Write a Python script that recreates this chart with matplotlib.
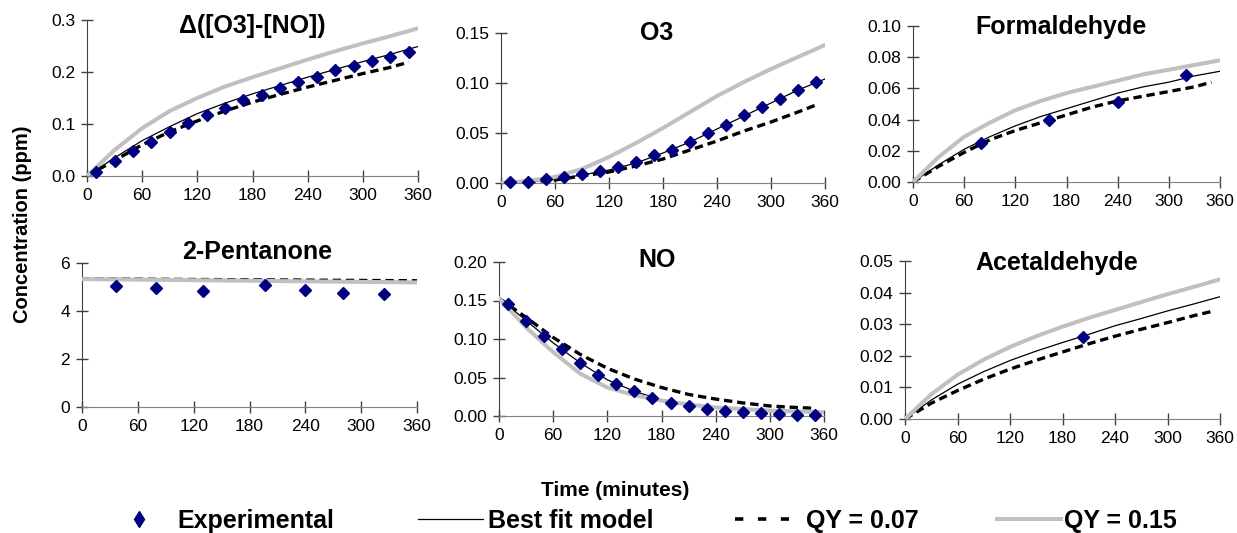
import matplotlib
matplotlib.use("Agg")
import matplotlib.pyplot as plt
from matplotlib.lines import Line2D

plt.rcParams['font.family'] = ['Liberation Sans', 'DejaVu Sans']
plt.rcParams['lines.scale_dashes'] = False

# sample times (minutes)
t_exp = list(range(10, 351, 20))
t_model = list(range(0, 361, 30))
t_qy07 = list(range(0, 331, 30)) + [350]

# d([O3]-[NO])
dO3NO_exp = [0.007, 0.028, 0.048, 0.066, 0.084, 0.101, 0.117, 0.131, 0.146,
             0.156, 0.169, 0.181, 0.191, 0.203, 0.212, 0.222, 0.229, 0.238]
dO3NO_best = [0, 0.035, 0.068, 0.095, 0.120, 0.140, 0.158, 0.174, 0.190, 0.205, 0.220, 0.234, 0.249]
dO3NO_qy07 = [0, 0.030, 0.060, 0.085, 0.106, 0.125, 0.142, 0.157, 0.171, 0.184, 0.197, 0.209, 0.219]
dO3NO_qy15 = [0, 0.050, 0.092, 0.125, 0.150, 0.172, 0.190, 0.207, 0.224, 0.240, 0.255, 0.269, 0.284]

# O3
o3_exp = [0.001, 0.001, 0.004, 0.006, 0.009, 0.012, 0.016, 0.021, 0.028,
          0.033, 0.041, 0.050, 0.058, 0.068, 0.076, 0.084, 0.093, 0.101]
o3_best = [0, 0.001, 0.004, 0.008, 0.013, 0.020, 0.030, 0.041, 0.054, 0.067, 0.080, 0.093, 0.104]
o3_qy07 = [0, 0.001, 0.003, 0.007, 0.011, 0.017, 0.024, 0.033, 0.042, 0.052, 0.061, 0.071, 0.078]
o3_qy15 = [0, 0.002, 0.006, 0.014, 0.026, 0.040, 0.055, 0.071, 0.087, 0.101, 0.114, 0.126, 0.138]

# Formaldehyde
t_hcho = [80, 160, 240, 320]
hcho_exp = [0.025, 0.040, 0.051, 0.0686]
hcho_best = [0, 0.011, 0.021, 0.029, 0.036, 0.042, 0.047, 0.052, 0.057, 0.061, 0.064, 0.068, 0.071]
hcho_qy07 = [0, 0.010, 0.019, 0.027, 0.033, 0.038, 0.043, 0.048, 0.052, 0.055, 0.058, 0.061, 0.064]
hcho_qy15 = [0, 0.016, 0.029, 0.038, 0.046, 0.052, 0.057, 0.061, 0.065, 0.069, 0.072, 0.075, 0.078]

# 2-Pentanone
t_pent = [37, 80, 130, 197, 240, 280, 324]
pent_exp = [5.05, 4.95, 4.84, 5.09, 4.88, 4.77, 4.71]
t_pent_model = [0, 180, 360]
pent_best = [5.33, 5.28, 5.22]
pent_qy07 = [5.34, 5.30, 5.26]
pent_qy15 = [5.33, 5.26, 5.19]

# NO
no_exp = [0.146, 0.124, 0.104, 0.087, 0.069, 0.053, 0.041, 0.032, 0.023,
          0.017, 0.013, 0.009, 0.007, 0.005, 0.004, 0.002, 0.0013, 0.001]
no_best = [0.153, 0.124, 0.095, 0.069, 0.047, 0.032, 0.021, 0.015, 0.011, 0.008, 0.006, 0.005, 0.004]
no_qy07 = [0.153, 0.128, 0.102, 0.080, 0.062, 0.048, 0.037, 0.028, 0.022, 0.017, 0.013, 0.011, 0.010]
no_qy15 = [0.153, 0.115, 0.083, 0.055, 0.037, 0.027, 0.020, 0.015, 0.011, 0.009, 0.007, 0.006, 0.005]

# Acetaldehyde
t_acet = [203]
acet_exp = [0.026]
acet_best = [0, 0.0060, 0.0110, 0.0150, 0.0185, 0.0215, 0.0242, 0.0268, 0.0295, 0.0318, 0.0342, 0.0364, 0.0387]
acet_qy07 = [0, 0.0050, 0.0090, 0.0126, 0.0158, 0.0186, 0.0212, 0.0238, 0.0262, 0.0284, 0.0305, 0.0327, 0.0340]
acet_qy15 = [0, 0.0078, 0.0140, 0.0188, 0.0228, 0.0262, 0.0292, 0.0320, 0.0345, 0.0370, 0.0395, 0.0418, 0.0442]

NAVY = '#000080'
GRAY = '#c0c0c0'
W, H = 1237, 533

fig = plt.figure(figsize=(W / 100, H / 100), dpi=100)


def add_panel(x0, x1, ytop, ybot):
    return fig.add_axes([x0 / W, 1 - ybot / H, (x1 - x0) / W, (ybot - ytop) / H])


def draw(ax, title, title_xy, te, ye, tb, yb, t7, y7, t15, y15, ymax, ystep, fmt):
    ax.plot(t7, y7, color='black', lw=2.4, dashes=(6, 3.5), zorder=2, solid_capstyle='butt')
    ax.plot(tb, yb, color='black', lw=0.9, zorder=2.5)
    ax.plot(t15, y15, color=GRAY, lw=2.9, zorder=3)
    ax.plot(te, ye, ls='none', marker='D', ms=6.2, color=NAVY, zorder=4, clip_on=False)
    ax.set_xlim(0, 360)
    ax.set_ylim(0, ymax)
    ax.set_xticks(range(0, 361, 60))
    n = int(round(ymax / ystep))
    ticks = [i * ystep for i in range(n + 1)]
    ax.set_yticks(ticks)
    ax.set_yticklabels([fmt.format(v) for v in ticks])
    for s in ('top', 'right'):
        ax.spines[s].set_visible(False)
    ax.spines['left'].set_color('#404040')
    ax.spines['bottom'].set_color('#808080')
    ax.tick_params(direction='inout', length=9, width=1, labelsize=12.5, color='#404040')
    ax.tick_params(axis='x', pad=4)
    ax.tick_params(axis='y', pad=4)
    ax.patch.set_alpha(0)
    fig.text(title_xy[0] / W, 1 - title_xy[1] / H, title, ha='center', va='center',
             fontsize=18, fontweight='bold')


ax1 = add_panel(87, 418, 20, 176)
draw(ax1, 'Δ([O3]-[NO])', (252, 26), t_exp, dO3NO_exp, t_model, dO3NO_best,
     t_qy07, dO3NO_qy07, t_model, dO3NO_qy15, 0.3, 0.1, '{:.1f}')

ax2 = add_panel(501, 825, 33, 183)
draw(ax2, 'O3', (657, 33), t_exp, o3_exp, t_model, o3_best,
     t_qy07, o3_qy07, t_model, o3_qy15, 0.15, 0.05, '{:.2f}')

ax3 = add_panel(913, 1220, 26, 182)
draw(ax3, 'Formaldehyde', (1061, 27), t_hcho, hcho_exp, t_model, hcho_best,
     t_qy07, hcho_qy07, t_model, hcho_qy15, 0.10, 0.02, '{:.2f}')

ax4 = add_panel(82, 417, 263, 407)
draw(ax4, '2-Pentanone', (257, 252), t_pent, pent_exp, t_pent_model, pent_best,
     t_pent_model, pent_qy07, t_pent_model, pent_qy15, 6, 2, '{:.0f}')

ax5 = add_panel(499, 824, 262, 416)
draw(ax5, 'NO', (657, 260), t_exp, no_exp, t_model, no_best,
     t_qy07, no_qy07, t_model, no_qy15, 0.20, 0.05, '{:.2f}')

ax6 = add_panel(905, 1220, 261, 419)
draw(ax6, 'Acetaldehyde', (1057, 263), t_acet, acet_exp, t_model, acet_best,
     t_qy07, acet_qy07, t_model, acet_qy15, 0.05, 0.01, '{:.2f}')

fig.text(23 / W, 1 - 224 / H, 'Concentration (ppm)', rotation=90, ha='center', va='center',
         fontsize=14.5, fontweight='bold')
fig.text(615 / W, 1 - 490 / H, 'Time (minutes)', ha='center', va='center',
         fontsize=15, fontweight='bold')

# legend row: one legend per entry so each can be spaced on its own
entries = [
    (Line2D([], [], ls='none', marker='d', ms=8, color=NAVY), 'Experimental', 130, 0.7, 1.2),
    (Line2D([], [], color='black', lw=0.9), 'Best fit model', 418, 2.6, 0.2),
    (Line2D([], [], color='black', lw=2.6, dashes=(6, 10.5)), 'QY = 0.07', 735, 2.15, 0.7),
    (Line2D([], [], color=GRAY, lw=2.9), 'QY = 0.15', 997, 2.55, 0.12),
]
for handle, label, xpx, hlen, tpad in entries:
    fig.legend(handles=[handle], labels=[label], loc='center left',
               bbox_to_anchor=(xpx / W, 1 - 521 / H), frameon=False,
               borderpad=0, borderaxespad=0, handlelength=hlen, handletextpad=tpad,
               prop={'size': 18, 'weight': 'bold'})

fig.savefig('out.png', dpi=100)
